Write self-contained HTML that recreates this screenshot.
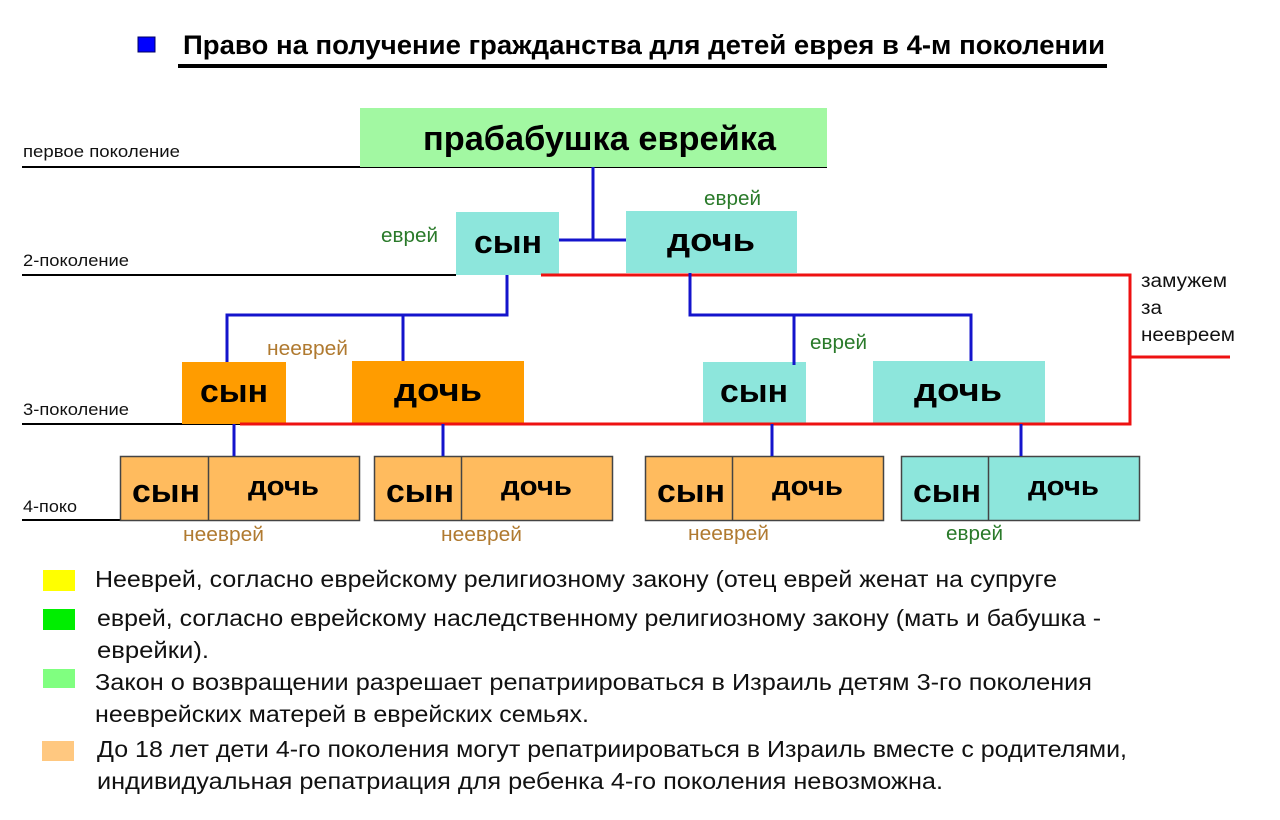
<!DOCTYPE html>
<html><head><meta charset="utf-8"><style>
html,body{margin:0;padding:0;background:#fff;}
svg{display:block;font-family:"Liberation Sans","DejaVu Sans",sans-serif;}
.b{font-weight:bold;fill:#000;}
</style></head><body>
<svg width="1280" height="820" viewBox="0 0 1280 820" xmlns="http://www.w3.org/2000/svg">
<rect width="1280" height="820" fill="#fff"/>
<!-- title -->
<rect x="138" y="37" width="17" height="15" fill="#0000ff" stroke="#000060" stroke-width="1"/>
<text x="183" y="54" class="b" font-size="27" textLength="922" lengthAdjust="spacingAndGlyphs">Право на получение гражданства для детей еврея в 4-м поколении</text>
<rect x="178" y="64" width="929" height="4" fill="#000"/>

<!-- generation lines -->
<g stroke="#000" stroke-width="2">
<line x1="22" y1="167" x2="827" y2="167"/>
<line x1="22" y1="275" x2="456" y2="275"/>
<line x1="22" y1="424" x2="245" y2="424"/>
<line x1="22" y1="520" x2="240" y2="520"/>
</g>
<g font-size="17" fill="#111">
<text x="23" y="157" textLength="157" lengthAdjust="spacingAndGlyphs">первое поколение</text>
<text x="23" y="266" textLength="106" lengthAdjust="spacingAndGlyphs">2-поколение</text>
<text x="23" y="415" textLength="106" lengthAdjust="spacingAndGlyphs">3-поколение</text>
<text x="23" y="512" textLength="54" lengthAdjust="spacingAndGlyphs">4-поко</text>
</g>

<!-- gen1 -->
<rect x="360" y="108" width="467" height="59" fill="#a2f8a2"/>
<text x="423" y="150" class="b" font-size="34" textLength="353" lengthAdjust="spacingAndGlyphs">прабабушка еврейка</text>

<!-- gen2 -->
<rect x="456" y="212" width="103" height="63" fill="#8de6dc"/>
<text x="474" y="253" class="b" font-size="32" textLength="68" lengthAdjust="spacingAndGlyphs">сын</text>
<rect x="626" y="211" width="171" height="62" fill="#8de6dc"/>
<text x="667" y="251" class="b" font-size="32" textLength="88" lengthAdjust="spacingAndGlyphs">дочь</text>
<g font-size="20" fill="#2a7a2a">
<text x="381" y="242" textLength="57" lengthAdjust="spacingAndGlyphs">еврей</text>
<text x="704" y="205" textLength="57" lengthAdjust="spacingAndGlyphs">еврей</text>
<text x="810" y="349" textLength="57" lengthAdjust="spacingAndGlyphs">еврей</text>
<text x="946" y="540" textLength="57" lengthAdjust="spacingAndGlyphs">еврей</text>
</g>
<g font-size="20" fill="#b07a30">
<text x="267" y="355" textLength="81" lengthAdjust="spacingAndGlyphs">нееврей</text>
<text x="183" y="541" textLength="81" lengthAdjust="spacingAndGlyphs">нееврей</text>
<text x="441" y="541" textLength="81" lengthAdjust="spacingAndGlyphs">нееврей</text>
<text x="688" y="540" textLength="81" lengthAdjust="spacingAndGlyphs">нееврей</text>
</g>

<!-- gen3 -->
<rect x="182" y="362" width="104" height="62" fill="#ff9c00"/>
<text x="200" y="402" class="b" font-size="32" textLength="68" lengthAdjust="spacingAndGlyphs">сын</text>
<rect x="352" y="361" width="172" height="63" fill="#ff9c00"/>
<text x="394" y="401" class="b" font-size="32" textLength="88" lengthAdjust="spacingAndGlyphs">дочь</text>
<rect x="703" y="362" width="103" height="62" fill="#8de6dc"/>
<text x="720" y="402" class="b" font-size="32" textLength="68" lengthAdjust="spacingAndGlyphs">сын</text>
<rect x="873" y="361" width="172" height="63" fill="#8de6dc"/>
<text x="914" y="401" class="b" font-size="32" textLength="88" lengthAdjust="spacingAndGlyphs">дочь</text>

<!-- gen4 -->
<g stroke="#444" stroke-width="1.5">
<rect x="120.5" y="456.5" width="239" height="64" fill="#ffbb5e"/>
<line x1="208.5" y1="456" x2="208.5" y2="520"/>
<rect x="374.5" y="456.5" width="238" height="64" fill="#ffbb5e"/>
<line x1="461.5" y1="456" x2="461.5" y2="520"/>
<rect x="645.5" y="456.5" width="238" height="64" fill="#ffbb5e"/>
<line x1="732.5" y1="456" x2="732.5" y2="520"/>
<rect x="901.5" y="456.5" width="238" height="64" fill="#8de6dc"/>
<line x1="988.5" y1="456" x2="988.5" y2="520"/>
</g>
<g class="b" font-size="32">
<text x="132" y="502" textLength="68" lengthAdjust="spacingAndGlyphs">сын</text>
<text x="386" y="502" textLength="68" lengthAdjust="spacingAndGlyphs">сын</text>
<text x="657" y="502" textLength="68" lengthAdjust="spacingAndGlyphs">сын</text>
<text x="913" y="502" textLength="68" lengthAdjust="spacingAndGlyphs">сын</text>
</g>
<g class="b" font-size="27">
<text x="248" y="495" textLength="71" lengthAdjust="spacingAndGlyphs">дочь</text>
<text x="501" y="495" textLength="71" lengthAdjust="spacingAndGlyphs">дочь</text>
<text x="772" y="495" textLength="71" lengthAdjust="spacingAndGlyphs">дочь</text>
<text x="1028" y="495" textLength="71" lengthAdjust="spacingAndGlyphs">дочь</text>
</g>

<!-- red lines -->
<g stroke="#ee1111" stroke-width="3" fill="none">
<polyline points="541,275 1130,275 1130,424 240,424"/>
<line x1="1130" y1="357" x2="1230" y2="357"/>
</g>
<g font-size="19" fill="#111">
<text x="1141" y="287" textLength="86" lengthAdjust="spacingAndGlyphs">замужем</text>
<text x="1141" y="314" textLength="21" lengthAdjust="spacingAndGlyphs">за</text>
<text x="1141" y="341" textLength="94" lengthAdjust="spacingAndGlyphs">неевреем</text>
</g>

<!-- blue lines -->
<g stroke="#1414cc" stroke-width="3" fill="none">
<line x1="593" y1="167" x2="593" y2="241"/>
<line x1="559" y1="240" x2="626" y2="240"/>
<polyline points="507,275 507,315 227,315 227,362"/>
<line x1="403" y1="315" x2="403" y2="361"/>
<polyline points="690,273 690,315 971,315 971,361"/>
<line x1="794" y1="315" x2="794" y2="365"/>
<line x1="234" y1="424" x2="234" y2="456"/>
<line x1="443" y1="424" x2="443" y2="456"/>
<line x1="772" y1="424" x2="772" y2="456"/>
<line x1="1021" y1="424" x2="1021" y2="456"/>
</g>

<!-- legend -->
<rect x="43" y="570" width="32" height="21" fill="#ffff00"/>
<rect x="43" y="609" width="32" height="21" fill="#00ee00"/>
<rect x="43" y="669" width="32" height="19" fill="#80ff80"/>
<rect x="42" y="741" width="32" height="20" fill="#ffc880"/>
<g font-size="23" fill="#111">
<text x="95" y="587" textLength="962" lengthAdjust="spacingAndGlyphs">Нееврей, согласно еврейскому религиозному закону (отец еврей женат на супруге</text>
<text x="97" y="626" textLength="1004" lengthAdjust="spacingAndGlyphs">еврей, согласно еврейскому наследственному религиозному закону (мать и бабушка -</text>
<text x="97" y="658" textLength="112" lengthAdjust="spacingAndGlyphs">еврейки).</text>
<text x="95" y="690" textLength="997" lengthAdjust="spacingAndGlyphs">Закон о возвращении разрешает репатриироваться в Израиль детям 3-го поколения</text>
<text x="95" y="722" textLength="494" lengthAdjust="spacingAndGlyphs">нееврейских матерей в еврейских семьях.</text>
<text x="97" y="757" textLength="1030" lengthAdjust="spacingAndGlyphs">До 18 лет дети 4-го поколения могут репатриироваться в Израиль вместе с родителями,</text>
<text x="97" y="789" textLength="846" lengthAdjust="spacingAndGlyphs">индивидуальная репатриация для ребенка 4-го поколения невозможна.</text>
</g>
</svg>
</body></html>
